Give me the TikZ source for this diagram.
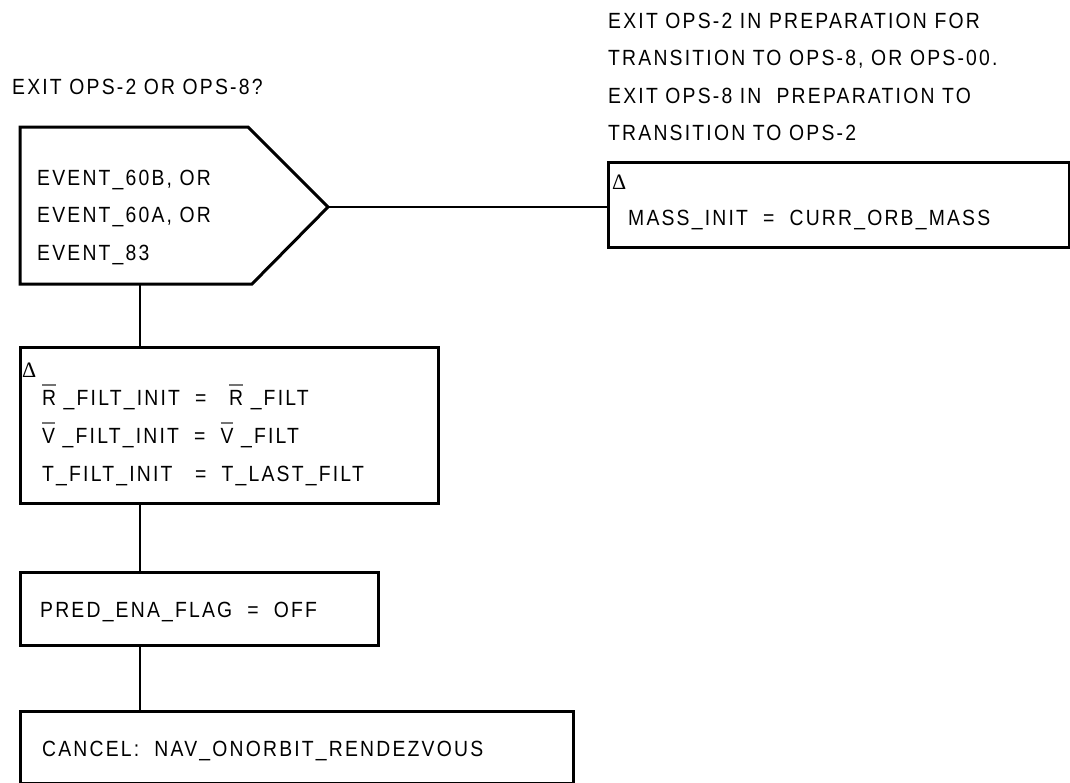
\documentclass[tikz,border=0pt]{standalone}
\usepackage{fontspec}
\setmainfont{Liberation Sans}[LetterSpace=10, FakeStretch=0.88]
\newfontfamily\dltfont{Liberation Serif}
\usetikzlibrary{calc}
\newcommand\barred[1]{\leavevmode\setbox0\hbox{#1}\rlap{\raisebox{19pt}{\color{black!55}\rule{\wd0}{1.6pt}}}\box0}
\newcommand\dlt{{\dltfont\fontsize{22}{22}\selectfont Δ}}
\begin{document}
\begin{tikzpicture}[x=1pt, y=-1pt, box/.style={rectangle,draw,line width=3pt,inner sep=0pt},
  lbl/.style={inner sep=0pt,anchor=base west,font=\fontsize{22}{22}\selectfont},
  link/.style={line width=2.4pt}]
\useasboundingbox (0,0) rectangle (1070,782);
% boxes
\draw[line width=3pt, line join=miter] (20,127) -- (248,127) -- (328,207) -- (252,284) -- (20,284) -- cycle;
\coordinate (evt tip) at (328,207);
\coordinate (evt foot) at (140,284);
\node[box, minimum width=461, minimum height=85] (mass) at (838.5,204.5) {};
\node[box, minimum width=418, minimum height=156] (filt) at (229,425) {};
\node[box, minimum width=358, minimum height=73] (pred) at (199,608.5) {};
\node[box, minimum width=553, minimum height=72] (cancel) at (296.5,747) {};
% texts
\node[lbl] (exitq) at (12,94) {EXIT OPS-2 OR OPS-8?};
\foreach \txt [count=\i] in {EXIT OPS-2 IN PREPARATION FOR, {TRANSITION TO OPS-8, OR OPS-00.}, EXIT OPS-8 IN~~PREPARATION TO, TRANSITION TO OPS-2}
  \node[lbl] (note\i) at (608,{28+37.5*(\i-1)}) {\txt};
\foreach \txt [count=\i] in {{EVENT\_60B, OR}, {EVENT\_60A, OR}, EVENT\_83}
  \node[lbl] (evt\i) at (37,{185+37.5*(\i-1)}) {\txt};
\node[lbl] (massd) at (612,189) {\dlt};
\node[lbl] (masst) at (628,225) {MASS\_INIT~~=~~CURR\_ORB\_MASS};
\node[lbl] (filtd) at (22,377) {\dlt};
\node[lbl] (filt1) at (42,405) {\barred{R}~\_FILT\_INIT~~=~~~\barred{R}~\_FILT};
\node[lbl] (filt2) at (42,443) {\barred{V}~\_FILT\_INIT~~=~~\barred{V}~\_FILT};
\node[lbl] (filt3) at (42,481) {T\_FILT\_INIT~~~=~~T\_LAST\_FILT};
\node[lbl] (predt) at (40,617) {PRED\_ENA\_FLAG~~=~~OFF};
\node[lbl] (cancelt) at (42,756) {CANCEL:~~NAV\_ONORBIT\_RENDEZVOUS};
% connectors
\draw[link] (evt tip) -- (evt tip -| mass.west);
\draw[link] (evt foot) -- (evt foot |- filt.north);
\draw[link] (filt.south -| evt foot) -- (evt foot |- pred.north);
\draw[link] (pred.south -| evt foot) -- (evt foot |- cancel.north);
\end{tikzpicture}
\end{document}
